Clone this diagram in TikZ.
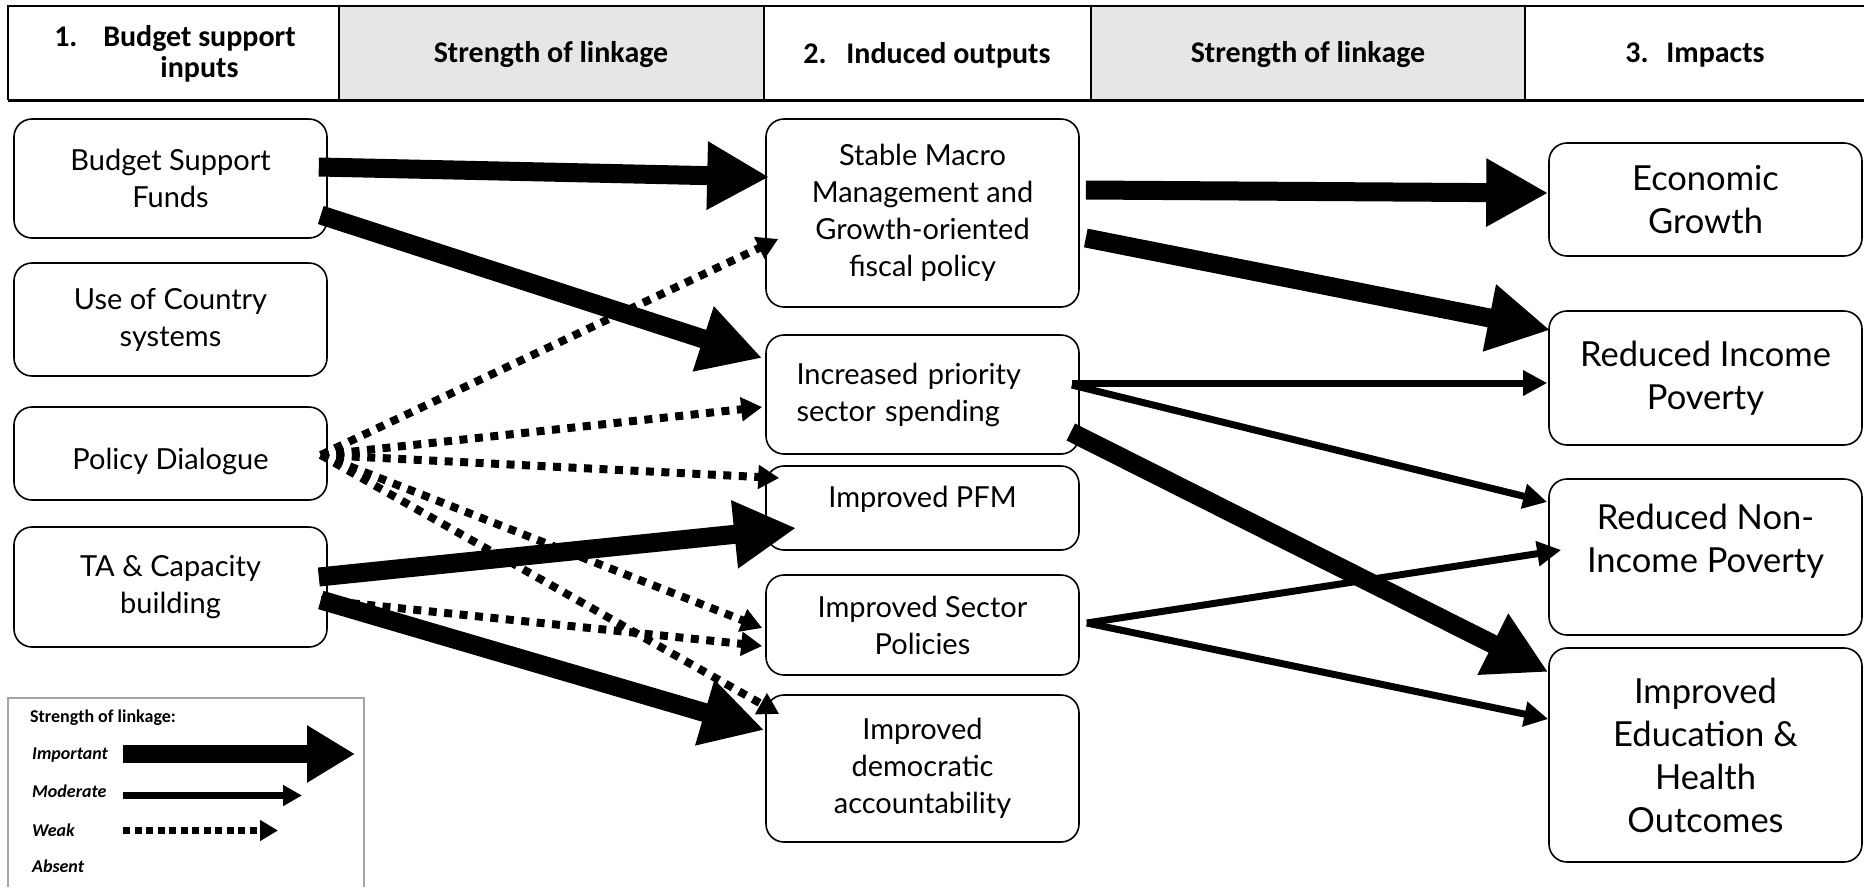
\documentclass[tikz,border=0pt]{standalone}
\usepackage{fontspec}
\setmainfont{Lato}
\newfontfamily\hdrfont{Carlito}
\usetikzlibrary{arrows.meta}
\definecolor{hdrgray}{RGB}{231,230,230}
\definecolor{lggray}{RGB}{165,165,165}

\begin{document}
\begin{tikzpicture}[
    x=1pt, y=-1pt,
    hdr/.style={font=\hdrfont\bfseries\fontsize{30}{31}\selectfont, align=center},
    box/.style={draw, rounded corners=18pt, line width=1.6pt, minimum width=313pt, inner sep=0pt, align=center, font=\fontsize{29}{37}\selectfont},
    bigbox/.style={box, font=\fontsize{34.5}{43}\selectfont},
    important/.style={line width=19pt, -{Triangle[length=62pt, width=64pt]}},
    moderate/.style={line width=7pt, -{Triangle[length=24pt, width=24pt]}},
    weak/.style={line width=8pt, dash pattern=on 8pt off 7.5pt, -{Triangle[length=21pt, width=23pt]}},
    lghd/.style={font=\hdrfont\bfseries\fontsize{18}{20}\selectfont, anchor=west, inner sep=0pt, text height=13pt, text depth=4pt},
    lgtext/.style={lghd, font=\hdrfont\bfseries\itshape\fontsize{18}{20}\selectfont}
  ]
    \useasboundingbox (0,0) rectangle (1864,887);
    % header row
    \fill[hdrgray] (339,6) rectangle (764,100);
    \fill[hdrgray] (1091,6) rectangle (1525,100);
    \draw[line width=1.5pt] (8,100) -- (8,6) -- (1864,6);
    \foreach \x in {339,764,1091,1525}
      \draw[line width=1.5pt] (\x,6) -- (\x,100);
    \draw[line width=3pt] (8,100) -- (1864,100);
    \node[hdr] (hin) at (199.5,54) {\llap{\makebox[49pt][l]{1.}}Budget support\\inputs};
    \node[hdr] (hl1) at (551,55) {Strength of linkage};
    \node[hdr] (hout) at (927,55) {\makebox[43pt][l]{2.}Induced outputs};
    \node[hdr] (hl2) at (1308,55) {Strength of linkage};
    \node[hdr] (himp) at (1695,55) {\makebox[41pt][l]{3.}Impacts};
    % inputs
    \node[box, minimum height=119pt] (bsf) at (170.5,178.5) {Budget Support\\Funds};
    \node[box, minimum height=113pt] (ucs) at (170.5,319.5) {Use of Country\\systems};
    \node[box, minimum height=93pt] (pd) at (170.5,453.5) {\raisebox{-8pt}[\height][\depth]{Policy Dialogue}};
    \node[box, minimum height=120pt] (ta) at (170.5,587) {TA \& Capacity\\building};
    % induced outputs
    \node[box, minimum height=188pt] (macro) at (922.5,213) {Stable Macro\\Management and\\Growth-oriented\\fiscal policy};
    \node[box, minimum height=119pt, text width=252pt, align=left] (prio) at (922.5,394.5) {Increased priority\\sector spending};
    \node[box, minimum height=84pt] (pfm) at (922.5,508) {\raisebox{9pt}[\height][\depth]{Improved PFM}};
    \node[box, minimum height=100pt] (sect) at (922.5,625) {Improved Sector\\Policies};
    \node[box, minimum height=147pt] (demo) at (922.5,768.5) {Improved\\democratic\\accountability};
    % impacts
    \node[bigbox, minimum height=113pt] (eg) at (1705.5,199.5) {Economic\\Growth};
    \node[bigbox, minimum height=134pt] (rip) at (1705.5,378) {Reduced Income\\Poverty};
    \node[bigbox, minimum height=156pt] (rnip) at (1705.5,557) {\raisebox{15pt}[\height][\depth]{\begin{tabular}{@{}c@{}}Reduced Non-\\Income Poverty\end{tabular}}};
    \node[bigbox, minimum height=214pt] (edu) at (1705.5,755) {Improved\\Education \&\\Health\\Outcomes};
    % weak links
    \foreach \dest/\dx/\dy in {macro/13/26, prio/-3/12.5, pfm/14/-30, sect/-3/3, demo/14/-54.5}
      \draw[weak] ([shift={(-7,1.5)}]pd.east) -- ([shift={(\dx,\dy)}]\dest.west);
    \draw[weak] ([shift={(-7,13)}]ta.east) -- ([shift={(-3,21)}]sect.west);
    % moderate links
    \draw[moderate] ([shift={(-8,-11.5)}]prio.east) -- ([shift={(-1,5)}]rip.west);
    \draw[moderate] ([shift={(-8,-9.5)}]prio.east) -- ([shift={(-1,-55)}]rnip.west);
    \draw[moderate] ([shift={(7,-2)}]sect.east) -- ([shift={(13,-7)}]rnip.west);
    \draw[moderate] ([shift={(7,-2)}]sect.east) -- ([shift={(0,-36)}]edu.west);
    % important links
    \draw[important] ([shift={(-9,-11.5)}]bsf.east) -- ([shift={(4,-36)}]macro.west);
    \draw[important] ([shift={(-7,36.5)}]bsf.east) -- ([shift={(-3,-36.5)}]prio.west);
    \draw[important] ([shift={(-9,-10)}]ta.east) -- ([shift={(31,20)}]pfm.west);
    \draw[important] ([shift={(-7,13)}]ta.east) -- ([shift={(-1,-38.5)}]demo.west);
    \draw[important] ([shift={(6,-23)}]macro.east) -- ([shift={(0,-6.5)}]eg.west);
    \draw[important] ([shift={(6,25)}]macro.east) -- ([shift={(2,-48)}]rip.west);
    \draw[important] ([shift={(-9,37.5)}]prio.east) -- ([shift={(0,-83)}]edu.west);
    % legend
    \draw[lggray, line width=1.5pt] (8,887) -- (8,698) -- (364,698) -- (364,887);
    \node[lghd] (lghead) at (30,718) {Strength of linkage:};
    \node[lgtext] (lgimp) at (32,755) {Important};
    \node[lgtext] (lgmod) at (32,793) {Moderate};
    \node[lgtext] (lgweak) at (32,832) {Weak};
    \node[lgtext] (lgabs) at (32,868) {Absent};
    \draw[line width=18pt, -{Triangle[length=48pt, width=54pt]}] ([shift={(91,-1)}]lgimp.west) -- ++(232,0);
    \draw[line width=7pt, -{Triangle[length=19pt, width=20pt]}] ([shift={(91,2.5)}]lgmod.west) -- ++(179,0);
    \draw[line width=7pt, dash pattern=on 7pt off 4.5pt, -{Triangle[length=18pt, width=20pt]}] ([shift={(91,-1.5)}]lgweak.west) -- ++(155,0);
  \end{tikzpicture}
\end{document}
